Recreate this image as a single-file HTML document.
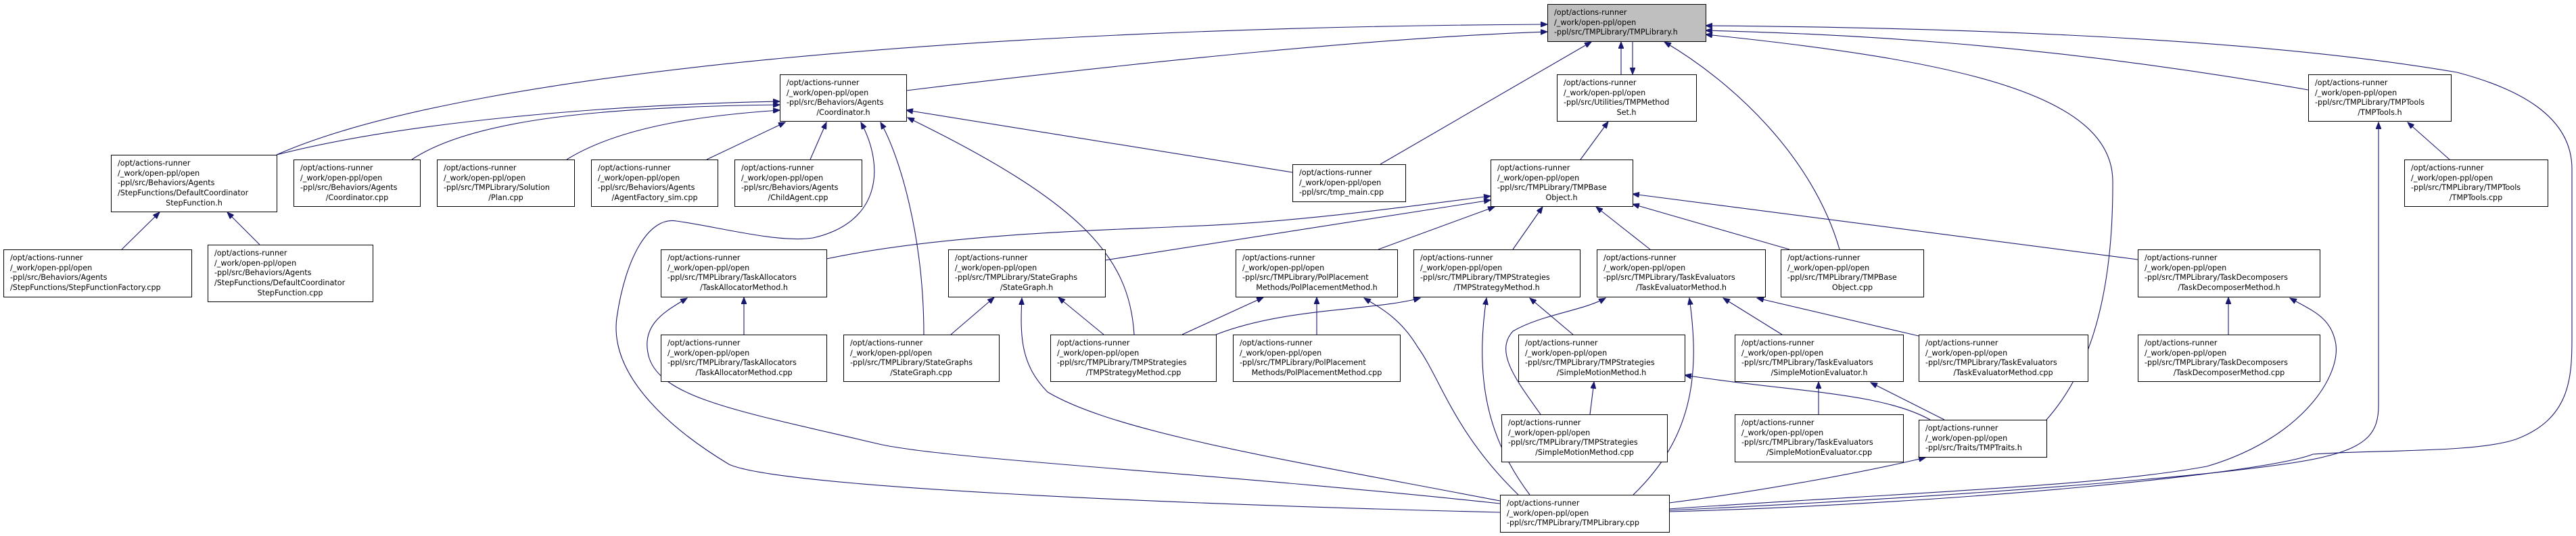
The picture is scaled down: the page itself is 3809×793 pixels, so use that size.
<!DOCTYPE html>
<html><head><meta charset="utf-8"><style>
html,body{margin:0;padding:0;background:#fff;}
svg{display:block;}
text{font-family:"DejaVu Sans","Liberation Sans",sans-serif;font-size:11.2px;fill:#000;}
.e{fill:none;stroke:#191970;stroke-width:1.1;}
.b{fill:#fff;stroke:#000;stroke-width:1;}
.g{fill:#bfbfbf;stroke:#000;stroke-width:1;}
</style></head><body>
<svg width="3809" height="793" viewBox="0 0 3809 793" xmlns="http://www.w3.org/2000/svg">
<defs><marker id="a" markerUnits="userSpaceOnUse" markerWidth="11" markerHeight="8" refX="10" refY="4" orient="auto"><path d="M0,0 L10,4 L0,8 z" fill="#191970" stroke="#191970"/></marker></defs>
<g class="e" marker-end="url(#a)">
<path d="M1340,134 C1700,90 2050,55 2288,47"/>
<path d="M409,229 C700,100 1500,40 2288,36"/>
<path d="M409,229 C600,180 900,155 1153,150"/>
<path d="M609,236 C700,175 900,158 1153,155"/>
<path d="M838,236 C920,185 1050,170 1153,163"/>
<path d="M1045,236 L1161,181"/>
<path d="M1198,236 L1222,181"/>
<path d="M2218,758 C1700,745 1150,720 1078,687 C1000,640 900,560 912,470 C925,380 960,320 1000,327 C1060,335 1150,360 1202,352 C1300,330 1310,250 1273,181"/>
<path d="M1911,255 L1340,163"/>
<path d="M1366,495 C1366,350 1330,230 1302,181"/>
<path d="M1677,495 C1670,380 1600,300 1342,174"/>
<path d="M180,369 L236,314"/>
<path d="M384,362 L336,314"/>
<path d="M2041,243 L2353,62"/>
<path d="M2397,110 L2397,62"/>
<path d="M2414,62 L2414,110"/>
<path d="M2720,369 C2680,230 2560,120 2461,62"/>
<path d="M3026,621 C3080,560 3125,460 3124,267 C3122,140 2900,90 2522,51"/>
<path d="M3413,133 C3000,60 2700,50 2522,45"/>
<path d="M2468,757 C2900,745 3350,700 3420,672 C3520,665 3660,670 3720,650 C3800,620 3803,560 3803,500 L3803,250 C3803,170 3720,130 3633,107 C3300,50 2800,40 2522,38"/>
<path d="M3622,236 L3560,181"/>
<path d="M2468,755 C2900,735 3350,700 3440,675 C3500,660 3517,640 3517,600 L3517,181"/>
<path d="M2468,753 C2800,730 3100,720 3263,690 C3400,650 3460,560 3454,510 C3448,470 3420,460 3386,441"/>
<path d="M3295,495 L3295,440"/>
<path d="M2337,236 L2378,180"/>
<path d="M1222,383 C1400,345 1650,340 1750,335 C1900,330 2050,310 2204,290"/>
<path d="M1634,385 L2204,296"/>
<path d="M2038,369 L2210,306"/>
<path d="M2237,369 L2281,306"/>
<path d="M2440,369 L2360,306"/>
<path d="M2646,369 L2414,302"/>
<path d="M3161,384 L2414,287"/>
<path d="M1100,495 L1100,440"/>
<path d="M2218,745 C1800,700 1400,680 1300,657 C1100,610 980,590 960,530 C945,480 985,460 1016,441"/>
<path d="M1406,495 L1470,440"/>
<path d="M1632,495 L1565,440"/>
<path d="M2218,741 C1900,680 1650,640 1549,580 C1510,540 1508,500 1511,441"/>
<path d="M1748,495 L1868,440"/>
<path d="M1947,495 L1947,440"/>
<path d="M2245,732 C2150,640 2130,560 2096,513 C2070,470 2040,455 2017,441"/>
<path d="M1798,495 C1900,455 2030,460 2100,441"/>
<path d="M2326,495 L2262,441"/>
<path d="M2262,732 C2200,650 2180,560 2198,441"/>
<path d="M2278,613 C2240,560 2210,520 2237,490 C2280,465 2340,460 2374,441"/>
<path d="M2415,732 C2500,650 2515,560 2498,441"/>
<path d="M2635,495 L2548,441"/>
<path d="M2837,497 L2598,441"/>
<path d="M2351,613 L2357,565"/>
<path d="M2854,621 C2780,580 2650,580 2491,555"/>
<path d="M2689,613 L2689,565"/>
<path d="M2875,621 L2766,566"/>
<path d="M2468,744 C2600,727 2750,700 2847,677"/>
</g>

<!-- nodes -->
<rect class="g" x="2288.5" y="6.5" width="234" height="55"/>
<text x="2298" y="22">/opt/actions-runner</text><text x="2298" y="37">/_work/open-ppl/open</text><text x="2298" y="51">-ppl/src/TMPLibrary/TMPLibrary.h</text>

<rect class="b" x="1153.5" y="110.5" width="187" height="69"/>
<text x="1163" y="126">/opt/actions-runner</text><text x="1163" y="141">/_work/open-ppl/open</text><text x="1163" y="155">-ppl/src/Behaviors/Agents</text><text x="1247" y="170" text-anchor="middle">/Coordinator.h</text>

<rect class="b" x="2302.5" y="110.5" width="206" height="69"/>
<text x="2312" y="126">/opt/actions-runner</text><text x="2312" y="141">/_work/open-ppl/open</text><text x="2312" y="155">-ppl/src/Utilities/TMPMethod</text><text x="2405" y="170" text-anchor="middle">Set.h</text>

<rect class="b" x="3413.5" y="110.5" width="211" height="69"/>
<text x="3423" y="126">/opt/actions-runner</text><text x="3423" y="141">/_work/open-ppl/open</text><text x="3423" y="155">-ppl/src/TMPLibrary/TMPTools</text><text x="3519" y="170" text-anchor="middle">/TMPTools.h</text>

<rect class="b" x="164.5" y="229.5" width="245" height="84"/>
<text x="174" y="245">/opt/actions-runner</text><text x="174" y="260">/_work/open-ppl/open</text><text x="174" y="274">-ppl/src/Behaviors/Agents</text><text x="174" y="289">/StepFunctions/DefaultCoordinator</text><text x="287" y="304" text-anchor="middle">StepFunction.h</text>

<rect class="b" x="434.5" y="236.5" width="187" height="69"/>
<text x="444" y="252">/opt/actions-runner</text><text x="444" y="267">/_work/open-ppl/open</text><text x="444" y="281">-ppl/src/Behaviors/Agents</text><text x="528" y="296" text-anchor="middle">/Coordinator.cpp</text>

<rect class="b" x="646.5" y="236.5" width="203" height="69"/>
<text x="656" y="252">/opt/actions-runner</text><text x="656" y="267">/_work/open-ppl/open</text><text x="656" y="281">-ppl/src/TMPLibrary/Solution</text><text x="748" y="296" text-anchor="middle">/Plan.cpp</text>

<rect class="b" x="874.5" y="236.5" width="187" height="69"/>
<text x="884" y="252">/opt/actions-runner</text><text x="884" y="267">/_work/open-ppl/open</text><text x="884" y="281">-ppl/src/Behaviors/Agents</text><text x="968" y="296" text-anchor="middle">/AgentFactory_sim.cpp</text>

<rect class="b" x="1086.5" y="236.5" width="188" height="69"/>
<text x="1096" y="252">/opt/actions-runner</text><text x="1096" y="267">/_work/open-ppl/open</text><text x="1096" y="281">-ppl/src/Behaviors/Agents</text><text x="1180" y="296" text-anchor="middle">/ChildAgent.cpp</text>

<rect class="b" x="1911.5" y="243.5" width="167" height="55"/>
<text x="1921" y="259">/opt/actions-runner</text><text x="1921" y="274">/_work/open-ppl/open</text><text x="1921" y="288">-ppl/src/tmp_main.cpp</text>

<rect class="b" x="2204.5" y="236.5" width="210" height="69"/>
<text x="2214" y="252">/opt/actions-runner</text><text x="2214" y="267">/_work/open-ppl/open</text><text x="2214" y="281">-ppl/src/TMPLibrary/TMPBase</text><text x="2309" y="296" text-anchor="middle">Object.h</text>

<rect class="b" x="3555.5" y="236.5" width="212" height="69"/>
<text x="3565" y="252">/opt/actions-runner</text><text x="3565" y="267">/_work/open-ppl/open</text><text x="3565" y="281">-ppl/src/TMPLibrary/TMPTools</text><text x="3661" y="296" text-anchor="middle">/TMPTools.cpp</text>

<rect class="b" x="5.5" y="369.5" width="278" height="70"/>
<text x="15" y="385">/opt/actions-runner</text><text x="15" y="400">/_work/open-ppl/open</text><text x="15" y="414">-ppl/src/Behaviors/Agents</text><text x="15" y="429">/StepFunctions/StepFunctionFactory.cpp</text>

<rect class="b" x="307.5" y="362.5" width="244" height="84"/>
<text x="317" y="378">/opt/actions-runner</text><text x="317" y="393">/_work/open-ppl/open</text><text x="317" y="407">-ppl/src/Behaviors/Agents</text><text x="317" y="422">/StepFunctions/DefaultCoordinator</text><text x="429" y="437" text-anchor="middle">StepFunction.cpp</text>

<rect class="b" x="977.5" y="369.5" width="245" height="70"/>
<text x="987" y="385">/opt/actions-runner</text><text x="987" y="400">/_work/open-ppl/open</text><text x="987" y="414">-ppl/src/TMPLibrary/TaskAllocators</text><text x="1100" y="429" text-anchor="middle">/TaskAllocatorMethod.h</text>

<rect class="b" x="1402.5" y="369.5" width="232" height="70"/>
<text x="1412" y="385">/opt/actions-runner</text><text x="1412" y="400">/_work/open-ppl/open</text><text x="1412" y="414">-ppl/src/TMPLibrary/StateGraphs</text><text x="1518" y="429" text-anchor="middle">/StateGraph.h</text>

<rect class="b" x="1827.5" y="369.5" width="239" height="70"/>
<text x="1837" y="385">/opt/actions-runner</text><text x="1837" y="400">/_work/open-ppl/open</text><text x="1837" y="414">-ppl/src/TMPLibrary/PolPlacement</text><text x="1947" y="429" text-anchor="middle">Methods/PolPlacementMethod.h</text>

<rect class="b" x="2090.5" y="369.5" width="246" height="70"/>
<text x="2100" y="385">/opt/actions-runner</text><text x="2100" y="400">/_work/open-ppl/open</text><text x="2100" y="414">-ppl/src/TMPLibrary/TMPStrategies</text><text x="2213" y="429" text-anchor="middle">/TMPStrategyMethod.h</text>

<rect class="b" x="2361.5" y="369.5" width="249" height="70"/>
<text x="2371" y="385">/opt/actions-runner</text><text x="2371" y="400">/_work/open-ppl/open</text><text x="2371" y="414">-ppl/src/TMPLibrary/TaskEvaluators</text><text x="2486" y="429" text-anchor="middle">/TaskEvaluatorMethod.h</text>

<rect class="b" x="2633.5" y="369.5" width="211" height="70"/>
<text x="2643" y="385">/opt/actions-runner</text><text x="2643" y="400">/_work/open-ppl/open</text><text x="2643" y="414">-ppl/src/TMPLibrary/TMPBase</text><text x="2739" y="429" text-anchor="middle">Object.cpp</text>

<rect class="b" x="3161.5" y="369.5" width="269" height="70"/>
<text x="3171" y="385">/opt/actions-runner</text><text x="3171" y="400">/_work/open-ppl/open</text><text x="3171" y="414">-ppl/src/TMPLibrary/TaskDecomposers</text><text x="3296" y="429" text-anchor="middle">/TaskDecomposerMethod.h</text>

<rect class="b" x="977.5" y="495.5" width="245" height="69"/>
<text x="987" y="511">/opt/actions-runner</text><text x="987" y="526">/_work/open-ppl/open</text><text x="987" y="540">-ppl/src/TMPLibrary/TaskAllocators</text><text x="1100" y="555" text-anchor="middle">/TaskAllocatorMethod.cpp</text>

<rect class="b" x="1247.5" y="495.5" width="230" height="69"/>
<text x="1257" y="511">/opt/actions-runner</text><text x="1257" y="526">/_work/open-ppl/open</text><text x="1257" y="540">-ppl/src/TMPLibrary/StateGraphs</text><text x="1362" y="555" text-anchor="middle">/StateGraph.cpp</text>

<rect class="b" x="1553.5" y="495.5" width="245" height="69"/>
<text x="1563" y="511">/opt/actions-runner</text><text x="1563" y="526">/_work/open-ppl/open</text><text x="1563" y="540">-ppl/src/TMPLibrary/TMPStrategies</text><text x="1676" y="555" text-anchor="middle">/TMPStrategyMethod.cpp</text>

<rect class="b" x="1823.5" y="495.5" width="247" height="69"/>
<text x="1833" y="511">/opt/actions-runner</text><text x="1833" y="526">/_work/open-ppl/open</text><text x="1833" y="540">-ppl/src/TMPLibrary/PolPlacement</text><text x="1947" y="555" text-anchor="middle">Methods/PolPlacementMethod.cpp</text>

<rect class="b" x="2245.5" y="495.5" width="246" height="69"/>
<text x="2255" y="511">/opt/actions-runner</text><text x="2255" y="526">/_work/open-ppl/open</text><text x="2255" y="540">-ppl/src/TMPLibrary/TMPStrategies</text><text x="2368" y="555" text-anchor="middle">/SimpleMotionMethod.h</text>

<rect class="b" x="2565.5" y="495.5" width="249" height="69"/>
<text x="2575" y="511">/opt/actions-runner</text><text x="2575" y="526">/_work/open-ppl/open</text><text x="2575" y="540">-ppl/src/TMPLibrary/TaskEvaluators</text><text x="2690" y="555" text-anchor="middle">/SimpleMotionEvaluator.h</text>

<rect class="b" x="2837.5" y="495.5" width="250" height="69"/>
<text x="2847" y="511">/opt/actions-runner</text><text x="2847" y="526">/_work/open-ppl/open</text><text x="2847" y="540">-ppl/src/TMPLibrary/TaskEvaluators</text><text x="2962" y="555" text-anchor="middle">/TaskEvaluatorMethod.cpp</text>

<rect class="b" x="3161.5" y="495.5" width="269" height="69"/>
<text x="3171" y="511">/opt/actions-runner</text><text x="3171" y="526">/_work/open-ppl/open</text><text x="3171" y="540">-ppl/src/TMPLibrary/TaskDecomposers</text><text x="3296" y="555" text-anchor="middle">/TaskDecomposerMethod.cpp</text>

<rect class="b" x="2220.5" y="613.5" width="245" height="70"/>
<text x="2230" y="629">/opt/actions-runner</text><text x="2230" y="644">/_work/open-ppl/open</text><text x="2230" y="658">-ppl/src/TMPLibrary/TMPStrategies</text><text x="2343" y="673" text-anchor="middle">/SimpleMotionMethod.cpp</text>

<rect class="b" x="2565.5" y="613.5" width="249" height="70"/>
<text x="2575" y="629">/opt/actions-runner</text><text x="2575" y="644">/_work/open-ppl/open</text><text x="2575" y="658">-ppl/src/TMPLibrary/TaskEvaluators</text><text x="2690" y="673" text-anchor="middle">/SimpleMotionEvaluator.cpp</text>

<rect class="b" x="2837.5" y="621.5" width="189" height="55"/>
<text x="2847" y="637">/opt/actions-runner</text><text x="2847" y="652">/_work/open-ppl/open</text><text x="2847" y="666">-ppl/src/Traits/TMPTraits.h</text>

<rect class="b" x="2218.5" y="732.5" width="250" height="55"/>
<text x="2228" y="748">/opt/actions-runner</text><text x="2228" y="763">/_work/open-ppl/open</text><text x="2228" y="777">-ppl/src/TMPLibrary/TMPLibrary.cpp</text>
</svg>
</body></html>
